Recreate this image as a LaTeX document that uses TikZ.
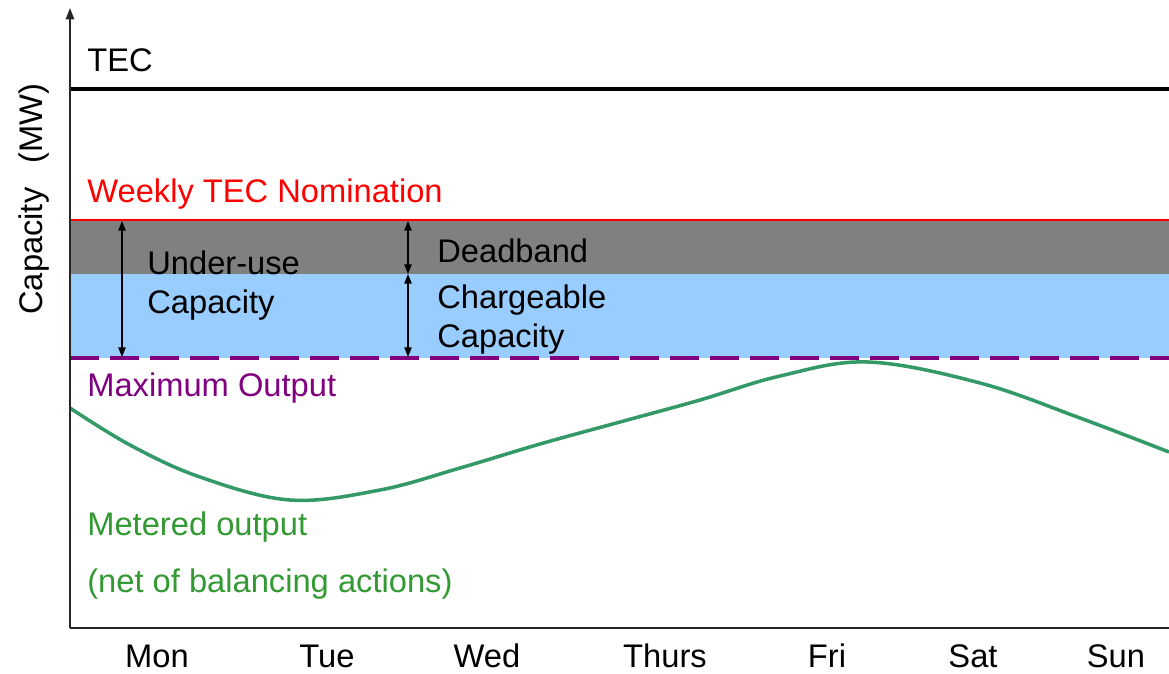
\documentclass[tikz,border=0pt]{standalone}
\usepackage{fontspec}
\setmainfont{Liberation Sans}
\usetikzlibrary{arrows.meta}

\definecolor{nomred}{RGB}{255,0,0}
\definecolor{deadgray}{RGB}{128,128,128}
\definecolor{chargeblue}{RGB}{153,204,255}
\definecolor{maxpurple}{RGB}{128,0,128}
\definecolor{meterline}{RGB}{51,153,102}
\definecolor{metertext}{RGB}{51,153,51}

\begin{document}
\begin{tikzpicture}[
    x=0.02cm,
    y=-0.02cm,
    font=\fontsize{18.6}{22}\selectfont,
    >={Triangle[length=5.5pt, width=4.2pt]},
    label/.style={
        anchor=base west,
        inner sep=0pt
    },
    daylabel/.style={
        anchor=base,
        inner sep=0pt
    },
    axis/.style={
        draw=black!85,
        line width=0.8pt
    },
    span/.style={
        <->,
        line width=0.8pt
    }]

\useasboundingbox (0,0) rectangle (1169,673);

% Bands
\fill[deadgray] (70,220) rectangle (1169,274);
\fill[chargeblue] (70,274) rectangle (1169,358);


% Levels
\draw[line width=2pt] (70,89) -- (1169,89);

\draw[nomred, line width=1.4pt] (70,220) -- (1169,220);

\draw[
    maxpurple,
    line width=2pt,
    dash pattern=on 0.58cm off 0.22cm
] (70,358) -- (1169,358);


% Metered output
\draw[meterline, line width=2pt]
plot[smooth, tension=0.6] coordinates {
    (70,408) (130,445) (200,477) (290,500) (380,490)
    (460,468) (540,444) (620,422) (700,400) (780,376)
    (868,362) (980,383) (1080,418) (1169,452)};


% Axes
\coordinate (origin) at (70,628);
\coordinate (ytop) at (70,8);
\coordinate (xend) at (1169,628);

\draw[axis, ->, >={Triangle[length=6.5pt, width=4.8pt]}]
(origin) -- (ytop);

\draw[axis] (origin) -- (xend);

\node[
    rotate=90,
    anchor=base,
    inner sep=0pt
] (ylabel) at (42,199)
{Capacity\hspace{0.75em}(MW)};


% Labels
\node[label] (tec) at (87,71) {TEC};

\node[label, text=nomred] (nomination) at (87,202)
{Weekly TEC Nomination};

\node[label] (underuse) at (147,274) {Under-use};
\node[label] (underusecap) at (147,313) {Capacity};

\node[label] (deadband) at (437,262) {Deadband};
\node[label] (chargeable) at (437,308) {Chargeable};
\node[label] (chargeablecap) at (437,347) {Capacity};

\node[label, text=maxpurple] (maxoutput) at (87,396)
{Maximum Output};

\node[label, text=metertext] (metered) at (87,535)
{Metered output};
\node[label, text=metertext] (netof) at (87,592)
{(net of balancing actions)};


% Spans
\coordinate (uTop) at (122,221);
\coordinate (uBot) at (122,357);
\coordinate (dTop) at (408,221);
\coordinate (dMid) at (408,274);
\coordinate (dBot) at (408,357);

\draw[span] (uTop) -- (uBot);
\draw[span] (dTop) -- (dMid);
\draw[span] (dMid) -- (dBot);


% Days
\node[daylabel] (mon) at (157,667) {Mon};
\node[daylabel] (tue) at (327,667) {Tue};
\node[daylabel] (wed) at (487,667) {Wed};
\node[daylabel] (thu) at (665,667) {Thurs};
\node[daylabel] (fri) at (827,667) {Fri};
\node[daylabel] (sat) at (973,667) {Sat};
\node[daylabel] (sun) at (1116,667) {Sun};

\end{tikzpicture}
\end{document}
